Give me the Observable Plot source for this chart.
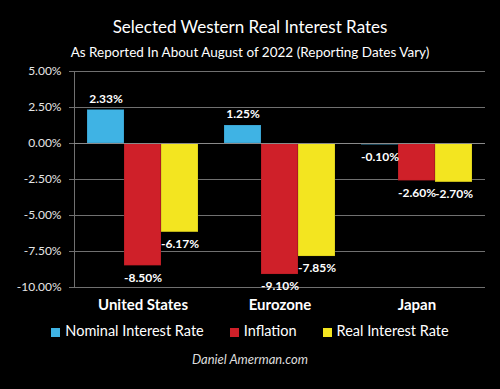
<!DOCTYPE html>
<html>
<head>
<meta charset="utf-8">
<script src="https://cdn.jsdelivr.net/npm/d3@7"></script>
<script src="https://cdn.jsdelivr.net/npm/@observablehq/plot@0.6"></script>
<style>
  html, body { margin: 0; padding: 0; background: #000; }
  #wrap { position: relative; width: 500px; height: 389px; background: #000; overflow: hidden; font-family: Lato, "Open Sans", sans-serif; color: #fff; }
  #title { position: absolute; left: 0; width: 500px; top: 17px; text-align: center; font-size: 17px; line-height: 20px; }
  #subtitle { position: absolute; left: 0; width: 500px; top: 44px; text-align: center; font-size: 13.5px; line-height: 16px; }
  #chart { position: absolute; left: 0; top: 60px; }
  #legend { position: absolute; left: 0; width: 500px; top: 322px; display: flex; justify-content: center; gap: 0; font-size: 14.5px; line-height: 18px; }
  .item { display: flex; align-items: center; margin: 0 13px; }
  .sw { width: 9px; height: 9px; margin-right: 5px; margin-top: 2px; }
  #caption { position: absolute; left: 0; width: 500px; top: 351px; text-align: center; font-size: 13px; font-style: italic; color: #ddd; }
</style>
</head>
<body>
<div id="wrap">
  <div id="title">Selected Western Real Interest Rates</div>
  <div id="subtitle">As Reported In About August of 2022 (Reporting Dates Vary)</div>
  <div id="chart"></div>
  <div id="legend"></div>
  <div id="caption">Daniel Amerman.com</div>
</div>
<script>
const countries = ["United States", "Eurozone", "Japan"];
const series = ["Nominal Interest Rate", "Inflation", "Real Interest Rate"];
const nominal = [2.33, 1.25, -0.10];
const inflation = [-8.50, -9.10, -2.60];
const real = [-6.17, -7.85, -2.70];
const yTicks = [5, 2.5, 0, -2.5, -5, -7.5, -10];
const colors = ["#3fb3e4", "#cf2029", "#f3e520"];

const seriesValues = [nominal, inflation, real];
const data = countries.flatMap((c, i) =>
  series.map((s, j) => ({country: c, series: s, value: seriesValues[j][i]}))
);
const fmt = v => v.toFixed(2) + "%";

const chart = Plot.plot({
  width: 500,
  height: 260,
  marginTop: 11,
  marginBottom: 33,
  marginLeft: 74,
  marginRight: 15,
  style: {background: "#000", color: "#fff", fontFamily: "Lato, 'Open Sans', sans-serif"},
  fx: {domain: countries, paddingInner: 0, paddingOuter: 0, label: null},
  x: {domain: series, paddingInner: 0, paddingOuter: 0.35, axis: null},
  y: {domain: [-10, 5], label: null},
  color: {domain: series, range: colors},
  marks: [
    Plot.gridY(yTicks, {stroke: "#707070", strokeOpacity: 1, strokeWidth: 1}),
    Plot.axisY(yTicks, {tickFormat: fmt, tickSize: 5, tickPadding: 8, fontSize: 12, fill: "#e6e6e6", stroke: "#707070", label: null}),
    Plot.frame({anchor: "left", facetAnchor: "left", stroke: "#707070"}),
    Plot.barY(data, {fx: "country", x: "series", y: "value", fill: "series", stroke: "#000", strokeOpacity: 0.15}),
    Plot.ruleY([0], {stroke: "#8a8a8a"}),
    Plot.text(data.filter(d => d.value >= 0), {fx: "country", x: "series", y: "value", text: d => fmt(d.value), dy: -11, fill: "#fff", fontWeight: "bold", fontSize: 12}),
    Plot.text(data.filter(d => d.value < 0), {fx: "country", x: "series", y: "value", text: d => fmt(d.value), dy: 12, fill: "#fff", fontWeight: "bold", fontSize: 12}),
    Plot.axisFx({anchor: "bottom", tickSize: 0, tickPadding: 12, fontSize: 15, fontWeight: "bold", fill: "#fff", label: null})
  ]
});
document.getElementById("chart").appendChild(chart);

const legend = document.getElementById("legend");
series.forEach((s, i) => {
  const item = document.createElement("div");
  item.className = "item";
  const sw = document.createElement("span");
  sw.className = "sw";
  sw.style.background = colors[i];
  const lab = document.createElement("span");
  lab.textContent = s;
  item.appendChild(sw);
  item.appendChild(lab);
  legend.appendChild(item);
});
</script>
</body>
</html>
